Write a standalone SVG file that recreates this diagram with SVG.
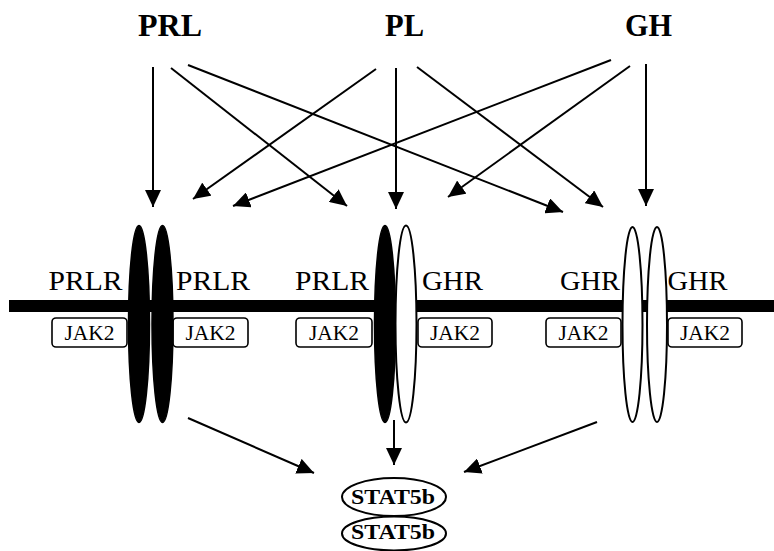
<svg xmlns="http://www.w3.org/2000/svg" width="774" height="551" viewBox="0 0 774 551">
<defs>
<marker id="ah" markerWidth="17" markerHeight="16" refX="17" refY="8" orient="auto" markerUnits="userSpaceOnUse">
<path d="M0,0 L17,8 L0,16 Z" fill="#000"/>
</marker>
<style>
.lig{font-family:"Liberation Serif","Times New Roman",serif;font-weight:bold;font-size:32px;text-anchor:middle;fill:#000}
.rec{font-family:"Liberation Serif","Times New Roman",serif;font-size:28px;text-anchor:middle;fill:#000}
.jak{font-family:"Liberation Serif","Times New Roman",serif;font-size:21px;text-anchor:middle;fill:#000}
.stat{font-family:"Liberation Serif","Times New Roman",serif;font-weight:bold;font-size:21px;text-anchor:middle;fill:#000}
.box{fill:#fff;stroke:#000;stroke-width:1.6}
.blk{fill:#000;stroke:#000;stroke-width:1.5}
.wht{fill:#fff;stroke:#000;stroke-width:2}
.arr{stroke:#000;stroke-width:2;fill:none;marker-end:url(#ah)}
.st{fill:#fff;stroke:#000;stroke-width:2}
</style>
</defs>
<rect width="774" height="551" fill="#fff"/>

<g id="ligands">
<g id="PRL"><text class="lig" x="170" y="36" textLength="64" lengthAdjust="spacingAndGlyphs">PRL</text></g>
<g id="PL"><text class="lig" x="404.5" y="36" textLength="39" lengthAdjust="spacingAndGlyphs">PL</text></g>
<g id="GH"><text class="lig" x="648.5" y="36" textLength="47" lengthAdjust="spacingAndGlyphs">GH</text></g>
</g>

<g id="membrane"><rect x="9" y="300" width="765" height="12" fill="#000"/></g>

<g id="jak2">
<g id="jak2-1"><rect class="box" x="52" y="318" width="75" height="29" rx="4"/><text class="jak" x="89.5" y="340" textLength="50" lengthAdjust="spacingAndGlyphs">JAK2</text></g>
<g id="jak2-2"><rect class="box" x="173" y="318" width="75" height="29" rx="4"/><text class="jak" x="210.5" y="340" textLength="50" lengthAdjust="spacingAndGlyphs">JAK2</text></g>
<g id="jak2-3"><rect class="box" x="296" y="318" width="76" height="29" rx="4"/><text class="jak" x="334" y="340" textLength="50" lengthAdjust="spacingAndGlyphs">JAK2</text></g>
<g id="jak2-4"><rect class="box" x="418" y="318" width="74" height="29" rx="4"/><text class="jak" x="455" y="340" textLength="50" lengthAdjust="spacingAndGlyphs">JAK2</text></g>
<g id="jak2-5"><rect class="box" x="546" y="318" width="75" height="29" rx="4"/><text class="jak" x="583.5" y="340" textLength="50" lengthAdjust="spacingAndGlyphs">JAK2</text></g>
<g id="jak2-6"><rect class="box" x="668" y="318" width="74" height="29" rx="4"/><text class="jak" x="705" y="340" textLength="50" lengthAdjust="spacingAndGlyphs">JAK2</text></g>
</g>

<g id="receptors">
<g id="prlr-prlr">
<ellipse class="blk" cx="139" cy="324" rx="10.5" ry="98.5"/>
<ellipse class="blk" cx="162.5" cy="324" rx="10.5" ry="98.5"/>
<text class="rec" x="85.5" y="290" textLength="74" lengthAdjust="spacingAndGlyphs">PRLR</text>
<text class="rec" x="213" y="290" textLength="74" lengthAdjust="spacingAndGlyphs">PRLR</text>
</g>
<g id="prlr-ghr">
<ellipse class="blk" cx="385" cy="324" rx="10.5" ry="98.5"/>
<ellipse class="wht" cx="406" cy="324" rx="10.5" ry="98.5"/>
<text class="rec" x="332" y="290" textLength="74" lengthAdjust="spacingAndGlyphs">PRLR</text>
<text class="rec" x="452.5" y="290" textLength="61" lengthAdjust="spacingAndGlyphs">GHR</text>
</g>
<g id="ghr-ghr">
<ellipse class="wht" cx="632.5" cy="324.5" rx="10" ry="97.5"/>
<ellipse class="wht" cx="657" cy="324.5" rx="10" ry="97.5"/>
<text class="rec" x="590" y="290" textLength="60" lengthAdjust="spacingAndGlyphs">GHR</text>
<text class="rec" x="697.5" y="290" textLength="60" lengthAdjust="spacingAndGlyphs">GHR</text>
</g>
</g>

<g id="stat5b">
<g id="stat5b-1"><ellipse class="st" cx="394" cy="497" rx="52" ry="19"/><text class="stat" x="393" y="504" textLength="84" lengthAdjust="spacingAndGlyphs">STAT5b</text></g>
<g id="stat5b-2"><ellipse class="st" cx="394" cy="533.5" rx="52" ry="17"/><text class="stat" x="393" y="539" textLength="84" lengthAdjust="spacingAndGlyphs">STAT5b</text></g>
</g>

<g id="connectors">
<line class="arr" x1="153" y1="67" x2="153" y2="207"/>
<line class="arr" x1="171" y1="68" x2="347" y2="206"/>
<line class="arr" x1="188" y1="65" x2="563" y2="212"/>
<line class="arr" x1="376" y1="69" x2="193" y2="199"/>
<line class="arr" x1="396" y1="68" x2="396" y2="209"/>
<line class="arr" x1="417" y1="67" x2="603" y2="207"/>
<line class="arr" x1="611" y1="60" x2="233" y2="206"/>
<line class="arr" x1="630" y1="66" x2="448" y2="197"/>
<line class="arr" x1="646" y1="64" x2="646" y2="206"/>
<line class="arr" x1="188" y1="418" x2="314" y2="473"/>
<line class="arr" x1="394" y1="420" x2="394" y2="465"/>
<line class="arr" x1="597" y1="422" x2="464" y2="472"/>
</g>
</svg>
